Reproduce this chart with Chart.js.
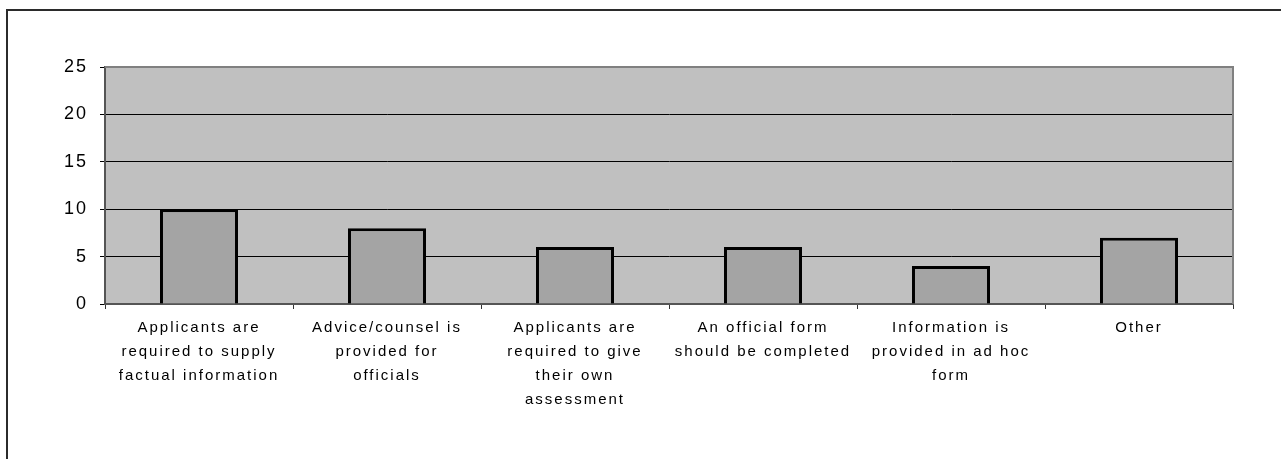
<!DOCTYPE html>
<html>
<head>
<meta charset="utf-8">
<script src="https://cdn.jsdelivr.net/npm/chart.js@4.4.1/dist/chart.umd.min.js"></script>
<style>
  html, body { margin: 0; padding: 0; background: #fff; overflow: hidden; }
  #frame {
    position: absolute; left: 6px; top: 9px; width: 1400px; height: 600px;
    border-left: 2px solid #2b2b2b; border-top: 2px solid #2b2b2b;
  }
  #example-chart { position: absolute; left: 0; top: 0; }
</style>
</head>
<body>
<div id="frame"></div>
<canvas id="example-chart" width="1281" height="459"></canvas>
<script>
let categories = [
    ['Applicants are', 'required to supply', 'factual information'],
    ['Advice/counsel is', 'provided for', 'officials'],
    ['Applicants are', 'required to give', 'their own', 'assessment'],
    ['An official form', 'should be completed'],
    ['Information is', 'provided in ad hoc', 'form'],
    ['Other']
];
let counts = [10, 8, 6, 6, 4, 7];
let yTicks = [0, 5, 10, 15, 20, 25];

// gray plot area plus the lighter top/right frame
let plotArea = {
    id: 'plotArea',
    beforeDraw: function (chart) {
        let ctx = chart.ctx, a = chart.chartArea;
        ctx.letterSpacing = '2px';
        ctx.save();
        ctx.fillStyle = '#c0c0c0';
        ctx.fillRect(a.left, a.top, a.right - a.left, a.bottom - a.top);
        ctx.restore();
    },
    beforeDatasetsDraw: function (chart) {
        let ctx = chart.ctx, a = chart.chartArea;
        ctx.save();
        ctx.strokeStyle = '#808080';
        ctx.lineWidth = 2;
        ctx.beginPath();
        ctx.moveTo(a.left, a.top);
        ctx.lineTo(a.right, a.top);
        ctx.lineTo(a.right, a.bottom);
        ctx.stroke();
        ctx.restore();
    }
};

window.onload = function () {
    let ctx = document.getElementById('example-chart').getContext('2d');
    new Chart(ctx, {
        type: 'bar',
        data: {
            labels: categories,
            datasets: [{
                data: counts,
                backgroundColor: '#a4a4a4',
                borderColor: '#000',
                borderWidth: 3,
                barPercentage: 0.415,
                categoryPercentage: 1
            }]
        },
        options: {
            responsive: false,
            animation: false,
            layout: { padding: { left: 0, top: 67, right: 48, bottom: 0 } },
            plugins: {
                legend: { display: false },
                tooltip: { enabled: false }
            },
            scales: {
                x: {
                    afterFit: function (scale) { scale.height = 155; },
                    grid: {
                        drawOnChartArea: false,
                        drawTicks: true,
                        tickLength: 5,
                        color: '#333'
                    },
                    border: { color: '#555', width: 2 },
                    ticks: {
                        color: '#000',
                        maxRotation: 0,
                        autoSkip: false,
                        padding: 7,
                        font: { family: 'Liberation Sans', size: 15, lineHeight: 1.6 }
                    }
                },
                y: {
                    min: 0,
                    max: 25,
                    afterFit: function (scale) { scale.width = 105; },
                    afterBuildTicks: function (scale) {
                        scale.ticks = yTicks.map(function (v) { return { value: v }; });
                    },
                    grid: {
                        color: function (c) { return c.tick && c.tick.value === 25 ? 'rgba(0,0,0,0)' : '#000'; },
                        lineWidth: 1,
                        tickLength: 5,
                        tickColor: '#000'
                    },
                    border: { color: '#555', width: 2 },
                    ticks: {
                        color: '#000',
                        padding: 12,
                        font: { family: 'Liberation Sans', size: 18 }
                    }
                }
            }
        },
        plugins: [plotArea]
    });
};
</script>
</body>
</html>
